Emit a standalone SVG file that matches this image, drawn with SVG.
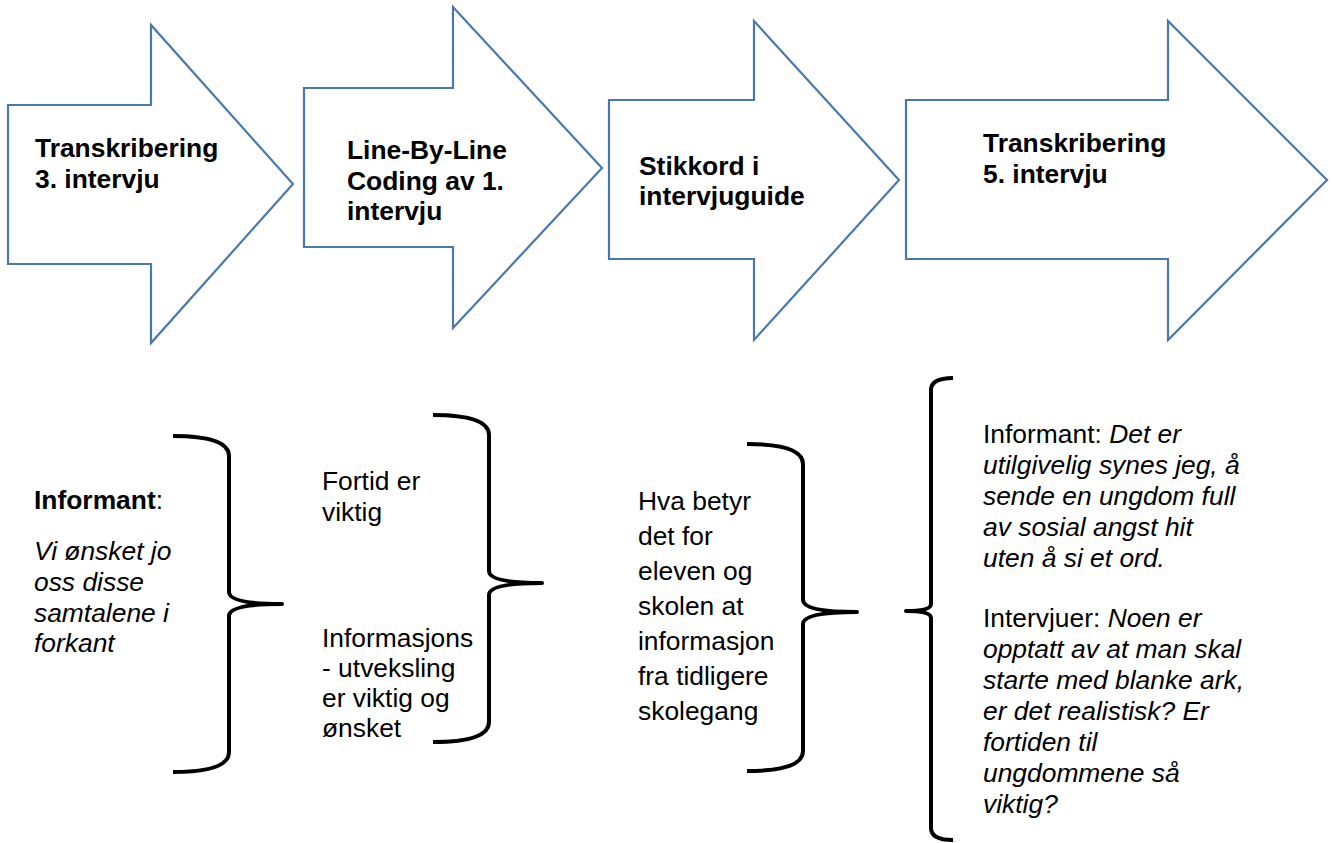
<svg xmlns="http://www.w3.org/2000/svg" width="1332" height="843" viewBox="0 0 1332 843">
<style>
.arrow{fill:#ffffff;stroke:#4A78AC;stroke-width:2.2;stroke-linejoin:miter}
.brace{fill:none;stroke:#000000;stroke-width:4;stroke-linecap:butt;stroke-linejoin:round}
text{font-family:"Liberation Sans",Arial,sans-serif;font-size:26.4px;fill:#000000}
.b{font-weight:bold}
.i{font-style:italic}
</style>
<rect x="0" y="0" width="1332" height="843" fill="#ffffff"/>
<g id="arrow1">
<polygon class="arrow" points="8,105 151,105 151,25 293,184 151,343 151,264 8,264"/>
<text class="b" x="35" y="157">Transkribering</text>
<text class="b" x="35" y="188">3. intervju</text>
</g>
<g id="arrow2">
<polygon class="arrow" points="304,88 453,88 453,7 602,168 453,328 453,247 304,247"/>
<text class="b" x="347" y="159">Line-By-Line</text>
<text class="b" x="347" y="190">Coding av 1.</text>
<text class="b" x="347" y="220">intervju</text>
</g>
<g id="arrow3">
<polygon class="arrow" points="609,100 754,100 754,21 899,180 754,340 754,259 609,259"/>
<text class="b" x="639" y="175">Stikkord i</text>
<text class="b" x="639" y="205">intervjuguide</text>
</g>
<g id="arrow4">
<polygon class="arrow" points="906,100 1168,100 1168,21 1327,180 1168,340 1168,259 906,259"/>
<text class="b" x="983" y="152">Transkribering</text>
<text class="b" x="983" y="183">5. intervju</text>
</g>
<g id="informant-quote">
<text x="34" y="509"><tspan class="b">Informant</tspan>:</text>
<text class="i" x="34" y="560">Vi ønsket jo</text>
<text class="i" x="34" y="591">oss disse</text>
<text class="i" x="34" y="622">samtalene i</text>
<text class="i" x="34" y="652">forkant</text>
</g>
<g id="codes">
<text x="322" y="490">Fortid er</text>
<text x="322" y="521">viktig</text>
<text x="322" y="647">Informasjons</text>
<text x="322" y="677">- utveksling</text>
<text x="322" y="707">er viktig og</text>
<text x="322" y="737">ønsket</text>
</g>
<g id="question">
<text x="638" y="510">Hva betyr</text>
<text x="638" y="545">det for</text>
<text x="638" y="580">eleven og</text>
<text x="638" y="615">skolen at</text>
<text x="638" y="650">informasjon</text>
<text x="638" y="685">fra tidligere</text>
<text x="638" y="720">skolegang</text>
</g>
<g id="transcript">
<text x="983" y="443">Informant: <tspan class="i">Det er</tspan></text>
<text class="i" x="983" y="474">utilgivelig synes jeg, å</text>
<text class="i" x="983" y="505">sende en ungdom full</text>
<text class="i" x="983" y="536">av sosial angst hit</text>
<text class="i" x="983" y="567">uten å si et ord.</text>
<text x="983" y="627">Intervjuer: <tspan class="i">Noen er</tspan></text>
<text class="i" x="983" y="658">opptatt av at man skal</text>
<text class="i" x="983" y="689">starte med blanke ark,</text>
<text class="i" x="983" y="720">er det realistisk? Er</text>
<text class="i" x="983" y="751">fortiden til</text>
<text class="i" x="983" y="782">ungdommene så</text>
<text class="i" x="983" y="813">viktig?</text>
</g>
<g id="connectors">
<path class="brace" d="M173,436 Q229,436 229,456 L229,592 Q229,604 282,604 Q229,604 229,616 L229,752 Q229,772 173,772"/>
<path class="brace" d="M433,415 Q489,415 489,435 L489,571 Q489,583 542,583 Q489,583 489,595 L489,722 Q489,742 433,742"/>
<path class="brace" d="M747,444 Q803,444 803,464 L803,600 Q803,612 857,612 Q803,612 803,624 L803,751 Q803,771 747,771"/>
<path class="brace" d="M953,378 Q931,378 931,390 L931,604 Q931,611 906,611 Q931,611 931,618 L931,828 Q931,840 953,840"/>
</g>
</svg>
